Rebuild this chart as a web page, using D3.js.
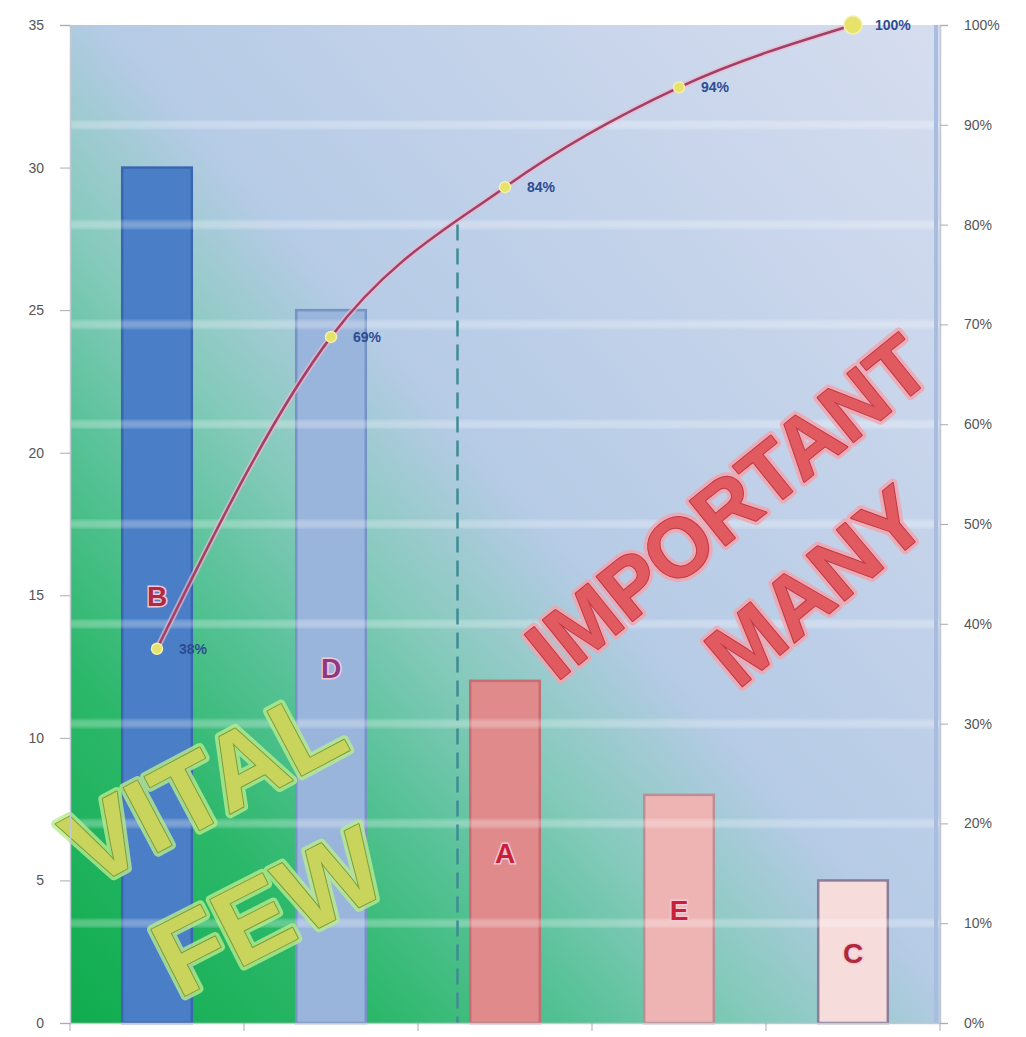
<!DOCTYPE html>
<html><head><meta charset="utf-8">
<script src="https://cdn.jsdelivr.net/npm/d3@7"></script>
<style>body{margin:0;background:#fff}svg{display:block}</style>
</head><body>
<script>
const categories = ["B","D","A","E","C"];
const values = [30,25,12,8,5];
const leftTicks = [0,5,10,15,20,25,30,35];
const rightTicks = [0,0.1,0.2,0.3,0.4,0.5,0.6,0.7,0.8,0.9,1.0];
const barFills = ["#4a7ec6","#9ab5dc","#e08a8c","#eeb4b4","#f7dcdc"];
const barStrokes = ["#3a66b0","#7593c4","#c46e74","#bc8e96","#8c7e9a"];
const labelColors = ["#b02a44","#8a3a86","#c8203a","#c8203a","#b0283c"];
const threshold = 0.8;

const W=1026,H=1037;
const L=70,R=940,T=25,B=1023;
const svg=d3.select("body").append("svg").attr("width",W).attr("height",H);
const defs=svg.append("defs");
const g=defs.append("linearGradient").attr("id","bg").attr("x1",0).attr("y1",1).attr("x2",1).attr("y2",0);
[[0,"#0fac4e"],[0.18,"#2cb86a"],[0.3,"#58c298"],[0.4,"#86cabc"],[0.52,"#b6cbe6"],[1,"#d6ddef"]].forEach(s=>g.append("stop").attr("offset",s[0]).attr("stop-color",s[1]));
defs.append("filter").attr("id","soft").append("feGaussianBlur").attr("stdDeviation",1.5);

const x=d3.scaleBand().domain(categories).range([L,R]).paddingInner(0.6).paddingOuter(0.3);
const yL=d3.scaleLinear().domain([0,35]).range([B,T]);
const yR=d3.scaleLinear().domain([0,1]).range([B,T]);

svg.append("rect").attr("x",L).attr("y",T).attr("width",R-L).attr("height",B-T).attr("fill","url(#bg)");

// bars
svg.selectAll(".bar").data(categories).join("rect")
  .attr("x",d=>x(d)).attr("y",(d,i)=>yL(values[i])).attr("width",x.bandwidth())
  .attr("height",(d,i)=>B-yL(values[i])).attr("fill",(d,i)=>barFills[i])
  .attr("stroke",(d,i)=>barStrokes[i]).attr("stroke-width",2.5);

// light horizontal stripes
svg.selectAll(".stripe").data(rightTicks.filter(t=>t>0&&t<1)).join("rect")
  .attr("x",L).attr("width",R-L).attr("y",d=>yR(d)-4).attr("height",8)
  .attr("fill","#ffffff").attr("opacity",0.28).attr("filter","url(#soft)");

// plot right edge
svg.append("line").attr("x1",R-4).attr("x2",R-4).attr("y1",T).attr("y2",B).attr("stroke","#a9bde0").attr("stroke-width",4);

// category letters
svg.selectAll(".cat").data(categories).join("text")
  .attr("x",d=>x(d)+x.bandwidth()/2).attr("y",(d,i)=>yL(values[i]/2)+11)
  .attr("text-anchor","middle").attr("font-family","Liberation Sans, Arial, sans-serif")
  .attr("font-weight","bold").attr("font-size",28).attr("fill",(d,i)=>labelColors[i])
  .attr("stroke","#f4c8d4").attr("stroke-width",3).attr("paint-order","stroke").text(d=>d);

// cumulative
const total=d3.sum(values);
let acc=0;
const cum=values.map(v=>(acc+=v)/total);
const pts=categories.map((c,i)=>[x(c)+x.bandwidth()/2,yR(cum[i])]);

// 80% dashed line
let xc=pts[0][0];
for(let i=1;i<pts.length;i++){ if(cum[i]>=threshold){ const t=(threshold-cum[i-1])/(cum[i]-cum[i-1]); xc=pts[i-1][0]+t*(pts[i][0]-pts[i-1][0]); break; } }
svg.append("line").attr("x1",xc-4).attr("x2",xc-4).attr("y1",yR(threshold)).attr("y2",B)
  .attr("stroke","#3f8c94").attr("stroke-width",2.5).attr("stroke-dasharray","16,8");

const line=d3.line().curve(d3.curveMonotoneX);
svg.append("path").attr("d",line(pts)).attr("fill","none").attr("stroke","#f0b8c8").attr("stroke-width",6).attr("opacity",0.7);
svg.append("path").attr("d",line(pts)).attr("fill","none").attr("stroke","#a0406a").attr("stroke-width",2.5);

svg.selectAll(".pt").data(pts).join("circle").attr("cx",d=>d[0]).attr("cy",d=>d[1])
  .attr("r",(d,i)=>i===pts.length-1?9:5.5).attr("fill","#e6e26a").attr("stroke","#f4f0b0").attr("stroke-width",1.5);

svg.selectAll(".pl").data(pts).join("text").attr("x",d=>d[0]+22).attr("y",d=>d[1]+5)
  .attr("font-family","Liberation Sans, Arial, sans-serif").attr("font-weight","bold").attr("font-size",14)
  .attr("fill","#2d4c92").text((d,i)=>Math.round(cum[i]*100)+"%");

// big annotations
function big(txt,cx,cy,ang,size,fill,glow,edge){
  const gg=svg.append("g").attr("transform",`translate(${cx},${cy}) rotate(${ang})`);
  gg.append("text").attr("text-anchor","middle").attr("dy","0.36em")
    .attr("font-family","Liberation Sans, Arial, sans-serif").attr("font-weight","bold").attr("font-size",size)
    .attr("fill","none").attr("stroke",glow).attr("stroke-width",9).attr("stroke-linejoin","round").attr("opacity",0.8).text(txt);
  gg.append("text").attr("text-anchor","middle").attr("dy","0.36em")
    .attr("font-family","Liberation Sans, Arial, sans-serif").attr("font-weight","bold").attr("font-size",size)
    .attr("fill",fill).attr("stroke",edge).attr("stroke-width",2).attr("stroke-linejoin","round").attr("paint-order","stroke").text(txt);
}
big("VITAL",203,785,-28,106,"#c9d45c","#b8ec8c","#7e9c3a");
big("FEW",268,910,-27,108,"#c9d45c","#b8ec8c","#7e9c3a");
big("IMPORTANT",727,506,-39,83,"#e05a60","#f4a4ac","#c03848");
big("MANY",815,585,-40,86,"#e05a60","#f4a4ac","#c03848");

// axes
const font="Liberation Sans, Arial, sans-serif";
const ax1=svg.append("g").attr("transform",`translate(${L},0)`).call(d3.axisLeft(yL).tickValues(leftTicks).tickSize(10).tickPadding(16));
const ax2=svg.append("g").attr("transform",`translate(${R},0)`).call(d3.axisRight(yR).tickValues(rightTicks).tickSize(8).tickPadding(16).tickFormat(d3.format(".0%")));
const ax3=svg.append("g").attr("transform",`translate(0,${B})`).call(d3.axisBottom(x).tickSize(0).tickFormat(""));
ax3.selectAll(".bt").data(d3.range(categories.length+1)).join("line").attr("x1",i=>L+i*x.step()).attr("x2",i=>L+i*x.step()).attr("y1",0).attr("y2",8).attr("stroke","#aab");
[ax1,ax2,ax3].forEach(a=>{a.select(".domain").attr("stroke","#c4c8d0").attr("stroke-width",1.5);a.selectAll(".tick line").attr("stroke","#aab");a.selectAll("text").attr("font-family",font).attr("font-size",14).attr("fill","#555");});
</script>
</body></html>
